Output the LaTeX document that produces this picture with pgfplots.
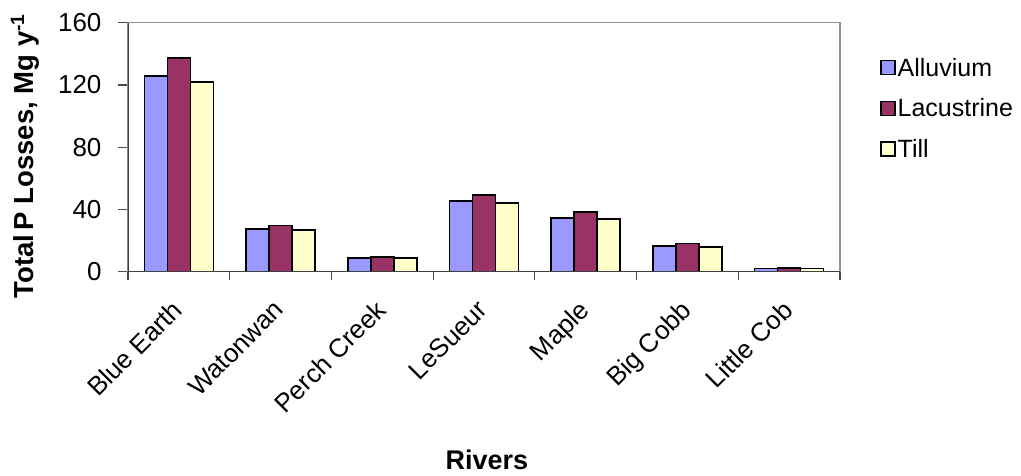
\documentclass[border=0pt]{standalone}
\usepackage{pgfplots}
\pgfplotsset{compat=1.18}
\usepackage{fontspec}
\setmainfont{Liberation Sans}

\definecolor{alluv}{HTML}{9999FF}
\definecolor{lacus}{HTML}{993366}
\definecolor{till}{HTML}{FFFFCC}

\begin{document}
\begin{tikzpicture}
\path[use as bounding box] (-128pt,-203.3pt) rectangle (893pt,271.7pt);
\begin{axis}[
  scale only axis,
  width=712pt, height=249pt,
  xmin=-0.5, xmax=6.5,
  ymin=0, ymax=160,
  ytick={0,40,...,160},
  xtick={0,...,6},
  xticklabels={Blue Earth,Watonwan,Perch Creek,LeSueur,Maple,Big Cobb,Little Cob},
  minor xtick={-0.5,0.5,...,6.5},
  xtick pos=bottom, ytick pos=left,
  major x tick style={draw=none},
  minor x tick style={draw=black!70, line width=1.2pt},
  minor tick length=8pt,
  major tick length=10pt,
  y tick style={draw=black!70, line width=1.2pt},
  tick align=outside,
  axis line style={draw=gray!85, line width=1.5pt},
  /pgf/number format/assume math mode=true,
  tick label style={font=\fontsize{26}{30}\selectfont},
  yticklabel style={xshift=-13pt},
  xticklabel style={xshift=-8pt, yshift=-14pt, rotate=45, anchor=north east, inner sep=2pt},
  ylabel={\textbf{Total\,P Losses, Mg y\textsuperscript{-1}}},
  xlabel={\textbf{Rivers}},
  every axis y label/.style={at={(rel axis cs:0,0.5)}, xshift=-103pt, yshift=-9pt,
    rotate=90, anchor=center, font=\fontsize{27.5}{32}\selectfont},
  every axis x label/.style={at={(rel axis cs:0.5,0)}, xshift=3pt, yshift=-188pt,
    anchor=center, font=\fontsize{27}{32}\selectfont},
  ybar, bar width=23pt,
  every axis plot/.append style={draw=black, line width=1.7pt},
  legend style={draw=none, fill=none, at={(rel axis cs:1,1)}, anchor=north west,
    xshift=37pt, yshift=-31pt, font=\fontsize{25}{30}\selectfont,
    row sep=17pt, cells={anchor=west}},
  legend image code/.code={\draw[#1, line width=1.5pt] (-1pt,-7pt) rectangle (13pt,7pt);},
]
\addplot[fill=alluv, bar shift=-23pt] coordinates {(0,125.8) (1,27.4) (2,8.6) (3,45.4) (4,34.5) (5,16.5) (6,2.1)};
\addplot[fill=lacus, bar shift=0pt] coordinates {(0,137.5) (1,29.6) (2,9.4) (3,49.3) (4,38.4) (5,18.2) (6,2.3)};
\addplot[fill=till, bar shift=23pt] coordinates {(0,122.1) (1,26.8) (2,8.6) (3,44.0) (4,33.7) (5,15.9) (6,2.1)};
\legend{Alluvium,Lacustrine,Till}
\draw[black!75, line width=1.5pt] (rel axis cs:0,1) -- (rel axis cs:0,0) -- (rel axis cs:1,0);
\end{axis}
\end{tikzpicture}
\end{document}
